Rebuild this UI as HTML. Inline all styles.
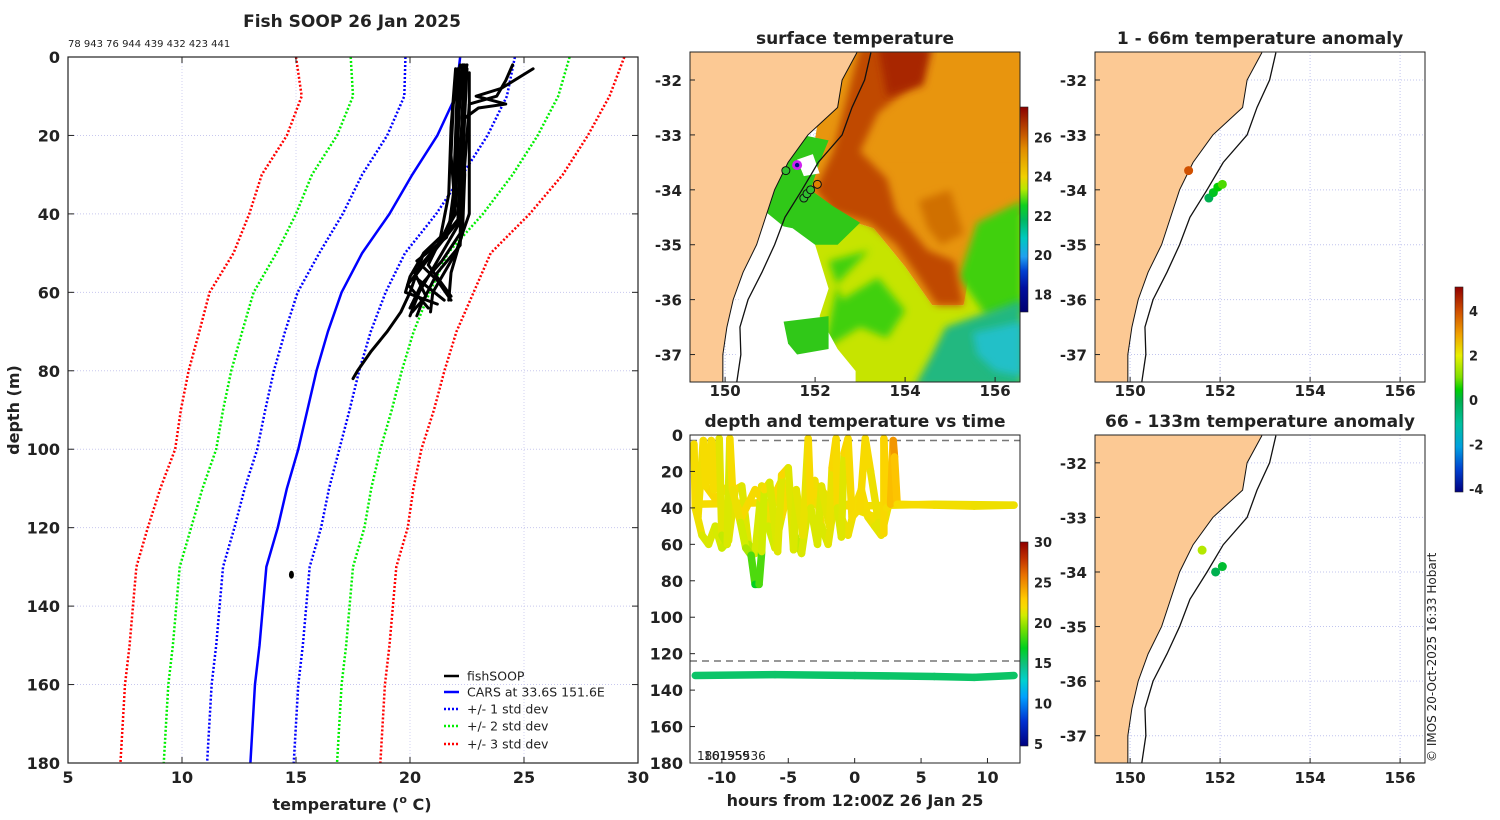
<!DOCTYPE html>
<html><head><meta charset="utf-8"><title>Fish SOOP 26 Jan 2025</title>
<style>
html,body{margin:0;padding:0;background:#fff;}
svg{display:block;font-family:"DejaVu Sans","Liberation Sans",sans-serif;}
</style></head>
<body>
<svg id="fig" xmlns="http://www.w3.org/2000/svg" width="1500" height="820" viewBox="0 0 1500 820">
<defs>
<linearGradient id="sstbar" x1="0" y1="1" x2="0" y2="0">
<stop offset="0" stop-color="#000070"/><stop offset="0.12" stop-color="#0010a0"/><stop offset="0.2" stop-color="#0040d0"/><stop offset="0.27" stop-color="#20a0f0"/><stop offset="0.36" stop-color="#00c8c0"/><stop offset="0.45" stop-color="#00b860"/><stop offset="0.52" stop-color="#10d020"/><stop offset="0.6" stop-color="#b8e800"/><stop offset="0.66" stop-color="#f0d000"/><stop offset="0.8" stop-color="#e08a00"/><stop offset="0.86" stop-color="#c85c00"/><stop offset="1" stop-color="#8a0000"/>
</linearGradient>
<linearGradient id="tbar" x1="0" y1="1" x2="0" y2="0">
<stop offset="0" stop-color="#00007f"/><stop offset="0.12" stop-color="#0030d0"/><stop offset="0.24" stop-color="#00a0ff"/><stop offset="0.32" stop-color="#00d0d0"/><stop offset="0.4" stop-color="#10c080"/><stop offset="0.48" stop-color="#00d020"/><stop offset="0.58" stop-color="#80e000"/><stop offset="0.64" stop-color="#d0ec00"/><stop offset="0.68" stop-color="#f6dc00"/><stop offset="0.72" stop-color="#ffcc00"/><stop offset="0.84" stop-color="#e87000"/><stop offset="0.92" stop-color="#c03000"/><stop offset="1" stop-color="#900000"/>
</linearGradient>
<linearGradient id="abar" x1="0" y1="1" x2="0" y2="0">
<stop offset="0" stop-color="#000080"/><stop offset="0.11" stop-color="#0040d0"/><stop offset="0.22" stop-color="#00a0e0"/><stop offset="0.33" stop-color="#00c0a0"/><stop offset="0.445" stop-color="#00b050"/><stop offset="0.5" stop-color="#00d000"/><stop offset="0.56" stop-color="#80e000"/><stop offset="0.665" stop-color="#e8f000"/><stop offset="0.77" stop-color="#f0a000"/><stop offset="0.88" stop-color="#d05000"/><stop offset="1" stop-color="#900000"/>
</linearGradient>
<clipPath id="clipA"><rect x="690" y="52" width="330" height="330"/></clipPath>
<clipPath id="clipB"><rect x="1095" y="52" width="330" height="330"/></clipPath>
<clipPath id="clipC"><rect x="1095" y="435" width="330" height="328"/></clipPath>
<clipPath id="clipL"><rect x="68" y="57" width="570" height="706"/></clipPath>
<clipPath id="clipT"><rect x="690" y="435" width="330" height="328"/></clipPath>
<filter id="soft"><feGaussianBlur stdDeviation="4"/></filter>
</defs>
</svg>
<script>
// ---------- DATA: left profile chart ----------
const carsDepth = [0,10,20,30,40,50,60,70,80,90,100,110,120,130,140,150,160,170,180];
const carsMean  = [22.2,22.0,21.2,20.1,19.1,17.9,17.0,16.4,15.9,15.5,15.1,14.6,14.2,13.7,13.55,13.4,13.2,13.1,13.0];
const carsStd   = [2.4,2.25,2.2,2.2,2.05,1.88,1.93,1.88,1.87,1.85,1.8,1.85,1.9,1.9,1.9,1.9,1.9,1.9,1.9];
const tempTicks = [5,10,15,20,25,30];
const depthTicks = [0,20,40,60,80,100,120,140,160,180];
const prof1Depth = [2,10,20,30,40,45,50,55,60,65,70,75,80,82];
const prof1Temp  = [22.3,22.2,22.1,22.0,21.9,21.5,20.6,20.3,20.0,19.6,19.0,18.3,17.7,17.5];
const prof2Depth = [3,15,30,45,52,58,64];
const prof2Temp  = [22.5,22.4,22.3,22.2,21.4,20.5,20.0];
const prof3Depth = [2,12,25,40,50,56,62];
const prof3Temp  = [22.2,21.9,21.8,22.0,21.0,20.2,21.5];
const prof4Depth = [3,8,10,12,13,16,30,45,55,62];
const prof4Temp  = [25.4,24.0,22.9,24.2,23.0,22.3,22.4,22.3,21.8,21.7];
const prof5Depth = [2,6,10,12,20,35,48,55,63,66];
const prof5Temp  = [24.5,24.2,23.8,22.6,22.5,22.3,22.2,21.2,20.5,20.3];
const prof6Depth = [4,20,40,50,60,65];
const prof6Temp  = [22.6,22.6,22.6,22.0,21.0,20.9];
const prof7Depth = [3,18,35,47,53,61];
const prof7Temp  = [22.0,21.8,21.7,21.3,20.8,21.8];
const prof8Depth = [2,25,42,50,58,64];
const prof8Temp  = [22.4,22.2,22.1,21.0,19.9,20.8];
const prof9Depth = [3,20,35,44,50,56,60,63];
const prof9Temp  = [22.1,22.0,21.9,21.7,20.6,20.0,19.8,21.2];
const prof10Depth = [2,15,30,42,48,54,60,66];
const prof10Temp  = [22.35,22.3,22.2,22.2,21.6,21.0,20.4,20.0];
const prof11Depth = [4,22,38,46,52,57,62];
const prof11Temp  = [22.2,22.1,22.0,21.6,20.3,21.2,21.8];
const prof12Depth = [2,12,28,40,48,55,61,65];
const prof12Temp  = [22.5,22.1,22.1,22.3,21.2,20.2,20.7,20.1];
const deepDotTemp = [14.8];
const deepDotDepth = [132];

// ---------- DATA: depth/temperature vs time ----------
const trackHours = [-12.1,-12,-11.8,-11.4,-11.2,-10.8,-10.6,-10.2,-10,-9.6,-9.4,-9.2,-8.6,-8.2,-7.8,-7.5,-7.2,-7,-6.8,-6.4,-5.8,-5.5,-5.0,-4.6,-4.4,-3.9,-3.5,-3.3,-2.8,-2.5,-1.9,-1.7,-1.4,-1.3,-1.0,-0.8,-0.5,-0.2,0.4,0.8,1.2,1.8,2.2,2.2,2.4,2.7,2.9,3.0,3.2,6,9,12];
const trackDepth = [5,40,45,3,28,3,30,2,55,60,2,30,48,62,66,82,82,64,30,26,64,22,18,63,30,55,2,40,60,28,50,18,2,40,56,10,2,45,40,2,20,48,54,2,40,38,3,12,38,38.5,39,38.5];
const trackTemp  = [22,22,21.8,22,22,22,22,22,21,20.5,22,22,21.5,20.5,20,17,17,20,22,22,20.5,22.3,22.3,20.5,22,21,22.3,22,20.5,22,21,22.3,22.3,22,20.5,22.3,22.3,22,22,22.3,22,21.5,21.5,23,22,22,25,24.5,22,22,21.8,21.8];
const trackBHours = [-12,-11.5,-11,-10.5,-10,-9.5,-9,-8.5,-8,-7.5,-7,-6.5,-6,-5.5,-5,-4.5,-4,-3.5,-3,-2.5,-2,-1.5,-1,-0.5,0,0.5,1,1.5,2,2.5];
const trackBDepth = [40,55,60,50,62,58,30,28,60,65,28,50,62,45,30,55,65,40,25,50,60,35,45,55,40,30,45,50,55,40];
const trackBTemp  = [22,21.5,21,21.5,20.8,21,22,22,20.8,20.3,22,21.5,20.5,22,22,21,20.5,22,22.2,21.5,21,22,22,21.5,22,22,22,21.5,21.5,22];
const trackCHours = [-11.5,-10.5,-9.5,-8.5,-7.5,-6.5,-5.5,-4.5,-3.5,-2.5,-1.5,-0.5,0.5,1.5,2.5];
const trackCDepth = [25,35,28,45,30,40,25,45,35,30,40,38,42,45,35];
const trackCTemp  = [22.3,22.2,22.3,22,22.2,22,22.3,22,22.1,22.2,22,22,22,21.8,22];
const midHours = [-12,-6,0,6,12];
const midDepth = [38,37,39,38,38.5];
const midTemp  = [22,22,22,21.8,21.8];
const deepHours = [-12,-6,0,6,9,12];
const deepDepth = [132,131.5,132,132.5,133,132];
const deepTemp  = [15.5,15.5,15.5,15.5,15.6,15.5];
const hourTicks = [-10,-5,0,5,10];
const timeCbTicks = [5,10,15,20,25,30];

// ---------- DATA: maps ----------
const lonTicks = [150,152,154,156];
const latTicks = [-32,-33,-34,-35,-36,-37];
const coastLat = [-31.5,-32,-32.5,-33,-33.5,-34,-34.5,-35,-35.5,-36,-36.5,-37,-37.5];
const coastLon = [152.93,152.6,152.5,151.84,151.4,151.1,150.9,150.7,150.4,150.18,150.04,149.95,149.95];
const shelfLat = [-31.5,-32,-32.5,-33,-33.5,-34,-34.5,-35,-35.5,-36,-36.5,-37,-37.5];
const shelfLon = [153.24,153.1,152.82,152.6,152.07,151.71,151.33,151.1,150.82,150.51,150.33,150.35,150.26];
const sstCbTicks = [18,20,22,24,26];
const anom1Lon = [151.3,151.75,151.85,151.95,152.05];
const anom1Lat = [-33.65,-34.15,-34.05,-33.95,-33.9];
const anom1Val = [4.0,0.0,0.3,0.5,0.8];
const anom2Lon = [151.6,151.9,152.05];
const anom2Lat = [-33.6,-34.0,-33.9];
const anom2Val = [1.5,0.0,0.2];
const anomCbTicks = [-4,-2,0,2,4];

// ---------- helpers ----------
const NS = 'http://www.w3.org/2000/svg';
const svg = document.getElementById('fig');
function mk(tag, attrs, parent){ const e=document.createElementNS(NS,tag); for(const k in attrs) e.setAttribute(k,attrs[k]); (parent||svg).appendChild(e); return e; }
function txt(x,y,s,size,anchor,bold,parent){ const t=mk('text',{x:x,y:y,'font-size':size,'text-anchor':anchor||'start','fill':'#222'},parent); if(bold) t.setAttribute('font-weight','bold'); t.textContent=s; return t; }
function lerpColor(stops,v){ if(v<=stops[0][0]) return stops[0][1]; for(let i=1;i<stops.length;i++){ if(v<=stops[i][0]){ const a=stops[i-1],b=stops[i],f=(v-a[0])/(b[0]-a[0]); const ca=hex(a[1]),cb=hex(b[1]); return 'rgb('+ca.map((c,j)=>Math.round(c+(cb[j]-c)*f)).join(',')+')'; } } return stops[stops.length-1][1]; }
function hex(h){ return [parseInt(h.substr(1,2),16),parseInt(h.substr(3,2),16),parseInt(h.substr(5,2),16)]; }
const timeCmap = [[5,'#00007f'],[8,'#0030d0'],[11,'#00a0ff'],[13,'#00d0d0'],[15,'#10c080'],[17,'#00d020'],[19.5,'#80e000'],[21,'#d0ec00'],[22,'#f6dc00'],[23,'#ffcc00'],[26,'#e87000'],[28,'#c03000'],[30,'#900000']];
const anomCmap = [[-4.1,'#000080'],[-3,'#0040d0'],[-2,'#00a0e0'],[-1,'#00c0a0'],[0,'#00b050'],[0.5,'#00d000'],[1,'#80e000'],[2,'#e8f000'],[3,'#f0a000'],[4,'#d05000'],[5.1,'#900000']];

// ================= LEFT PANEL =================
const LX0=68, LX1=638, LY0=57, LY1=763;
const xT = t => LX0 + (t-5)*(LX1-LX0)/25;
const yD = d => LY0 + d*(LY1-LY0)/180;
let el;
el = mk('rect',{x:LX0,y:LY0,width:LX1-LX0,height:LY1-LY0,fill:'#fff'});


const lgrid = mk('g',{});


tempTicks.forEach(t=>{ if(t>5&&t<30){ const g=mk('line',{x1:xT(t),x2:xT(t),y1:LY0,y2:LY1,stroke:'#d0d0f0','stroke-width':1,'stroke-dasharray':'1,2'},lgrid);   }});
depthTicks.forEach(d=>{ if(d>0&&d<180){ const g=mk('line',{x1:LX0,x2:LX1,y1:yD(d),y2:yD(d),stroke:'#c8c8ee','stroke-width':1,'stroke-dasharray':'1,2'},lgrid);   }});

const lplot = mk('g',{'clip-path':'url(#clipL)'});


function pline(temps,depths,color,w,dash,name){
  const p = mk('polyline',{points:temps.map((t,i)=>xT(t)+','+yD(depths[i])).join(' '),fill:'none',stroke:color,'stroke-width':w,'stroke-linejoin':'round','stroke-linecap':dash?'butt':'round'},lplot);
  if(dash) p.setAttribute('stroke-dasharray',dash);
  
  
  return p;
}
[[3,'#ff0000','std-minus-3'],[2,'#00ee00','std-minus-2'],[1,'#0000ff','std-minus-1']].forEach(s=>{
  pline(carsMean.map((m,i)=>m-s[0]*carsStd[i]),carsDepth,s[1],2.5,'2,2',s[2]);
  pline(carsMean.map((m,i)=>m+s[0]*carsStd[i]),carsDepth,s[1],2.5,'2,2',s[2].replace('minus','plus'));
});
pline(carsMean,carsDepth,'#0000ff',2.5,null,'cars-mean-profile');
[[prof1Temp,prof1Depth],[prof2Temp,prof2Depth],[prof3Temp,prof3Depth],[prof4Temp,prof4Depth],[prof5Temp,prof5Depth],[prof6Temp,prof6Depth],[prof7Temp,prof7Depth],[prof8Temp,prof8Depth],[prof9Temp,prof9Depth],[prof10Temp,prof10Depth],[prof11Temp,prof11Depth],[prof12Temp,prof12Depth]].forEach(p=>{
  pline(p[0],p[1],'#000',3,null,'fishsoop-profile');
});
deepDotTemp.forEach((t,i)=>{ el=mk('ellipse',{cx:xT(t),cy:yD(deepDotDepth[i]),rx:2.5,ry:4,fill:'#000'},lplot);   });

el = mk('rect',{x:LX0,y:LY0,width:LX1-LX0,height:LY1-LY0,fill:'none',stroke:'#222','stroke-width':1.2});


tempTicks.forEach(t=>{
  el=mk('line',{x1:xT(t),x2:xT(t),y1:LY1,y2:LY1-6,stroke:'#222'});  
  el=mk('line',{x1:xT(t),x2:xT(t),y1:LY0,y2:LY0+6,stroke:'#222'});  
  el=txt(xT(t),783,String(t),16,'middle',true);  
});
depthTicks.forEach(d=>{
  el=mk('line',{x1:LX0,x2:LX0+6,y1:yD(d),y2:yD(d),stroke:'#222'});  
  el=mk('line',{x1:LX1,x2:LX1-6,y1:yD(d),y2:yD(d),stroke:'#222'});  
  el=txt(60,yD(d)+6,String(d),16,'end',true);  
});
el=txt(352,27,'Fish SOOP 26 Jan 2025',17,'middle',true);  
el=txt(68,47,'78 943 76 944 439 432 423 441',10,'start',false);  
el=mk('text',{x:352,y:810,'font-size':16,'font-weight':'bold','text-anchor':'middle',fill:'#222'});
el.innerHTML='temperature (<tspan font-size="11" dy="-7">o</tspan><tspan dy="7"> C)</tspan>';
 
el=txt(0,0,'depth (m)',16,'middle',true); el.setAttribute('transform','translate(19,410) rotate(-90)');
 

// legend
const legItems=[['fishSOOP','#000',null],['CARS at 33.6S 151.6E','#0000ff',null],['+/- 1 std dev','#0000ff','2,2'],['+/- 2 std dev','#00ee00','2,2'],['+/- 3 std dev','#ff0000','2,2']];
const legY=[676,692,709,726,744];
const leg=mk('g',{});  
legItems.forEach((it,i)=>{
  const ln=mk('line',{x1:444,x2:459,y1:legY[i],y2:legY[i],stroke:it[1],'stroke-width':2.5},leg);
  if(it[2]) ln.setAttribute('stroke-dasharray',it[2]);
   
  const t=txt(467,legY[i]+4.5,it[0],12.5,'start',false,leg);  
});

// ================= MAP helpers =================
function mapProj(x0,y0){ return { x: lon => x0 + (lon-149.22)*45, y: lat => y0 + (-31.49-lat)*(330/6.01) }; }
function poly(P,lons,lats,fill,parent,name){ const e=mk('polygon',{points:lons.map((l,i)=>P.x(l)+','+P.y(lats[i])).join(' '),fill:fill},parent);   return e; }
function drawMapBase(P,X0,Y0,W,H,clip,name){
  const g=mk('g',{'clip-path':'url(#'+clip+')'});  
  el=mk('rect',{x:X0,y:Y0,width:W,height:H,fill:'#fff'},g);  
  lonTicks.forEach(l=>{ el=mk('line',{x1:P.x(l),x2:P.x(l),y1:Y0,y2:Y0+H,stroke:'#c0c4ee','stroke-dasharray':'1,2'},g);   });
  latTicks.forEach(l=>{ el=mk('line',{x1:X0,x2:X0+W,y1:P.y(l),y2:P.y(l),stroke:'#c0c4ee','stroke-dasharray':'1,2'},g);   });
  return g;
}
function drawCoast(P,g){
  poly(P,[149.0].concat(coastLon,[149.0]),[-31.3].concat(coastLat,[-37.7]),'#fcc994',g,'land');
  el=mk('polyline',{points:coastLon.map((l,i)=>P.x(l)+','+P.y(coastLat[i])).join(' '),fill:'none',stroke:'#111','stroke-width':1},g);  
  el=mk('polyline',{points:shelfLon.map((l,i)=>P.x(l)+','+P.y(shelfLat[i])).join(' '),fill:'none',stroke:'#111','stroke-width':1.3},g);  
}
function mapAxes(P,X0,Y0,W,H,labelY){
  el=mk('rect',{x:X0,y:Y0,width:W,height:H,fill:'none',stroke:'#222','stroke-width':1});  
  latTicks.forEach(l=>{ el=txt(X0-8,P.y(l)+6,String(l),15,'end',true);  
    el=mk('line',{x1:X0,x2:X0+5,y1:P.y(l),y2:P.y(l),stroke:'#222'});   });
  lonTicks.forEach(l=>{ el=txt(P.x(l),labelY,String(l),15,'middle',true);  
    el=mk('line',{x1:P.x(l),x2:P.x(l),y1:Y0+H,y2:Y0+H-5,stroke:'#222'});   });
}

// ================= SST MAP =================
const PA = mapProj(690,52);
const gA = drawMapBase(PA,690,52,330,330,'clipA','sst-map');
poly(PA,[152.3,156.6,156.6,151.8],[-31.4,-31.4,-34.4,-34.2],'#e8950e',gA,'sst-warm-region');
poly(PA,[153.0,156.6,156.6,155.5,155.3,154.6,154.0,153.3,152.5,151.9],[-33.5,-33.5,-35.2,-35.4,-36.1,-36.1,-35.4,-34.7,-34.5,-34.2],'#e8950e',gA,'sst-warm-region-south');
poly(PA,[151.0,151.9,152.5,153.3,154.0,154.6,155.3,155.5,156.6,156.6,151.0],[-37.6,-34.2,-34.5,-34.7,-35.4,-36.1,-36.1,-35.2,-34.4,-37.6,-37.6],'#c6e400',gA,'sst-cool-region');
el=poly(PA,[152.6,153.4,154.0,153.6,153.0,152.2,152.5,153.2,152.3],[-36.0,-35.6,-36.2,-36.7,-36.5,-36.9,-35.7,-35.1,-35.3],'#40d010',gA,'sst-green-patch'); el.setAttribute('filter','url(#soft)');
el=poly(PA,[155.6,156.6,156.6,155.8,155.2],[-34.6,-34.2,-36.2,-36.3,-35.6],'#40d010',gA,'sst-green-patch-east'); el.setAttribute('filter','url(#soft)');
el=poly(PA,[154.9,156.6,156.6,154.2,154.6],[-36.5,-36.0,-37.6,-37.6,-37.0],'#20b880',gA,'sst-teal-region'); el.setAttribute('filter','url(#soft)');
el=poly(PA,[155.5,156.6,156.6,156.0,155.6],[-36.6,-36.4,-37.4,-37.3,-37.0],'#20c0c8',gA,'sst-cyan-patch'); el.setAttribute('filter','url(#soft)');
el=poly(PA,[153.0,154.4,154.3,153.4,153.0,153.6,153.8,154.5,155.1,155.3,154.7,154.3,153.8,153.2,152.4,152.0,152.4],[-31.4,-31.4,-32.0,-32.6,-33.3,-33.8,-34.4,-35.1,-35.3,-36.1,-36.1,-35.6,-35.0,-34.6,-34.4,-34.0,-33.3],'#c04a00',gA,'sst-eac-core'); el.setAttribute('filter','url(#soft)');
el=poly(PA,[153.4,154.6,154.4,153.6],[-31.4,-31.4,-32.1,-32.3],'#a82800',gA,'sst-hot-patch'); el.setAttribute('filter','url(#soft)');
el=poly(PA,[154.3,155.0,155.3,154.8,154.5],[-34.2,-34.0,-34.8,-35.0,-34.7],'#d07000',gA,'sst-orange-eddy'); el.setAttribute('filter','url(#soft)');
poly(PA,[151.2,151.7,152.3,152.1,151.9,152.4,153.0,152.5,151.8,151.2,150.9],[-33.2,-33.0,-33.1,-33.5,-34.0,-34.3,-34.6,-35.0,-35.0,-34.6,-34.4],'#30c818',gA,'sst-coastal-green');
poly(PA,[150.9,151.5,152.0,152.3,152.1,152.5,152.9,152.9,150.2,150.3],[-34.6,-34.7,-35.0,-35.8,-36.3,-36.9,-37.3,-37.6,-37.6,-36.0],'#ffffff',gA,'sst-missing-data');
poly(PA,[151.3,152.3,152.3,151.6,151.4],[-36.4,-36.3,-36.9,-37.0,-36.8],'#30c818',gA,'sst-green-fragment');
poly(PA,[151.6,151.95,152.1,151.75],[-33.45,-33.35,-33.7,-33.75],'#ffffff',gA,'sst-cloud-patch');
drawCoast(PA,gA);
el=mk('circle',{cx:PA.x(151.6),cy:PA.y(-33.55),r:5,fill:'#d020f0'},gA);  
el=mk('circle',{cx:PA.x(151.6),cy:PA.y(-33.55),r:2.2,fill:'#001080'},gA);  
[[151.35,-33.65,'#30c030'],[151.75,-34.15,'#30c030'],[151.82,-34.07,'#30c030'],[151.9,-34.0,'#30c030'],[152.05,-33.9,'#e08000']].forEach(c=>{
  el=mk('circle',{cx:PA.x(c[0]),cy:PA.y(c[1]),r:4,fill:c[2],stroke:'#111','stroke-width':1},gA);  
});
mapAxes(PA,690,52,330,330,396);
el=txt(855,44,'surface temperature',17,'middle',true);  
el=mk('rect',{x:1020,y:107,width:8,height:205,fill:'url(#sstbar)',stroke:'#222','stroke-width':0.6});  
const sstCbY = v => 312 - (v-17.1)*(205/10.45);
sstCbTicks.forEach(v=>{ el=txt(1034,sstCbY(v)+5,String(v),13,'start',true);   });

// ================= DEPTH vs TIME =================
const TX0=690,TX1=1020,TY0=435,TY1=763;
const xH = h => TX0 + (h+12.4)*(TX1-TX0)/24.85;
const yT = d => TY0 + d*(TY1-TY0)/180;
el=mk('rect',{x:TX0,y:TY0,width:TX1-TX0,height:TY1-TY0,fill:'#fff'});  
[3,124].forEach(d=>{ el=mk('line',{x1:TX0,x2:TX1,y1:yT(d),y2:yT(d),stroke:'#777','stroke-width':1.5,'stroke-dasharray':'7,5'});   });
const gT=mk('g',{'clip-path':'url(#clipT)'});  
function track(hs,ds,ts,name){
  for(let i=1;i<hs.length;i++){
    const s=mk('line',{x1:xH(hs[i-1]),y1:yT(ds[i-1]),x2:xH(hs[i]),y2:yT(ds[i]),stroke:lerpColor(timeCmap,(ts[i-1]+ts[i])/2),'stroke-width':7.5,'stroke-linecap':'round'},gT);
    
    
  }
}
track(midHours,midDepth,midTemp,'mid-depth-track');
track(trackBHours,trackBDepth,trackBTemp,'yoyo-track-b-segment');
track(trackCHours,trackCDepth,trackCTemp,'yoyo-track-c-segment');
track(trackHours,trackDepth,trackTemp,'yoyo-track-segment');
track(deepHours,deepDepth,deepTemp,'deep-sensor-track');
el=mk('rect',{x:TX0,y:TY0,width:TX1-TX0,height:TY1-TY0,fill:'none',stroke:'#222','stroke-width':1});  
hourTicks.forEach(h=>{ el=txt(xH(h),783,String(h),16,'middle',true);  
  el=mk('line',{x1:xH(h),x2:xH(h),y1:TY1,y2:TY1-5,stroke:'#222'});   });
depthTicks.forEach(d=>{ el=txt(683,yT(d)+6,String(d),16,'end',true);  
  el=mk('line',{x1:TX0,x2:TX0+5,y1:yT(d),y2:yT(d),stroke:'#222'});   });
el=txt(855,427,'depth and temperature vs time',17,'middle',true);  
el=txt(855,806,'hours from 12:00Z 26 Jan 25',16,'middle',true);  
el=txt(697,760,'180195536',12,'start',false);  
el=txt(704,760,'161559',12,'start',false);  
el=mk('rect',{x:1020,y:542,width:8,height:204,fill:'url(#tbar)',stroke:'#222','stroke-width':0.6});  
const tCbY = v => 744 - (v-5)*(202/25);
timeCbTicks.forEach(v=>{ el=txt(1034,tCbY(v)+5,String(v),13,'start',true);   });

// ================= ANOMALY MAPS =================
const PB = mapProj(1095,52);
const gB = drawMapBase(PB,1095,52,330,330,'clipB','anomaly-map-shallow');
drawCoast(PB,gB);
anom1Lon.forEach((l,i)=>{ el=mk('circle',{cx:PB.x(l),cy:PB.y(anom1Lat[i]),r:4.5,fill:lerpColor(anomCmap,anom1Val[i])},gB);   });
mapAxes(PB,1095,52,330,330,396);
el=txt(1260,44,'1 - 66m temperature anomaly',17,'middle',true);  

const PC = { x: PB.x, y: lat => 435 + (-31.49-lat)*(328/6.01) };
const gC = drawMapBase(PC,1095,435,330,328,'clipC','anomaly-map-deep');
drawCoast(PC,gC);
anom2Lon.forEach((l,i)=>{ el=mk('circle',{cx:PC.x(l),cy:PC.y(anom2Lat[i]),r:4.5,fill:lerpColor(anomCmap,anom2Val[i])},gC);   });
mapAxes(PC,1095,435,330,328,783);
el=txt(1260,427,'66 - 133m temperature anomaly',17,'middle',true);  

el=mk('rect',{x:1455,y:287,width:8,height:205,fill:'url(#abar)',stroke:'#222','stroke-width':0.6});  
const aCbY = v => 400 - v*22.3;
anomCbTicks.forEach(v=>{ el=txt(1469,aCbY(v)+5,String(v),13,'start',true);   });

el=txt(0,0,'© IMOS 20-Oct-2025 16:33 Hobart',12,'start',false); el.setAttribute('transform','translate(1436,762) rotate(-90)');
 
</script>
</body></html>
